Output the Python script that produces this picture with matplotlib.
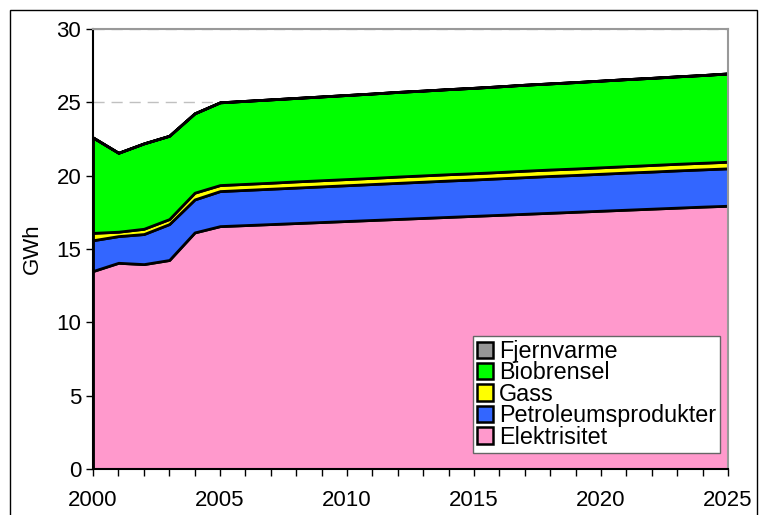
import matplotlib
matplotlib.use("Agg")
import matplotlib.pyplot as plt
from matplotlib.patches import Patch, Rectangle
from matplotlib.ticker import MultipleLocator

plt.rcParams.update({"font.family": ["Liberation Sans", "DejaVu Sans"], "font.size": 16})

years = list(range(2000, 2026))
elektrisitet = [13.5, 14.06, 13.97, 14.25, 16.13, 16.56, 16.63, 16.70, 16.77, 16.84, 16.91,
                16.98, 17.05, 17.12, 17.19, 17.26, 17.33, 17.40, 17.47, 17.54, 17.61,
                17.68, 17.75, 17.82, 17.89, 17.95]
petroleum = [2.1, 1.82, 2.05, 2.45, 2.25, 2.39, 2.40, 2.41, 2.42, 2.43, 2.44,
             2.45, 2.46, 2.47, 2.48, 2.48, 2.49, 2.50, 2.51, 2.51, 2.52,
             2.53, 2.53, 2.54, 2.54, 2.55]
gass = [0.5, 0.3, 0.36, 0.34, 0.46, 0.41, 0.41, 0.41, 0.42, 0.42, 0.42,
        0.42, 0.43, 0.43, 0.43, 0.43, 0.43, 0.44, 0.44, 0.44, 0.44,
        0.44, 0.45, 0.45, 0.45, 0.45]
biobrensel = [6.5, 5.38, 5.82, 5.68, 5.41, 5.64, 5.66, 5.68, 5.69, 5.71, 5.73,
              5.75, 5.77, 5.78, 5.80, 5.82, 5.84, 5.86, 5.87, 5.89, 5.91,
              5.93, 5.94, 5.96, 5.98, 6.02]
fjernvarme = [0.0] * len(years)

labels = ["Elektrisitet", "Petroleumsprodukter", "Gass", "Biobrensel", "Fjernvarme"]
colors = ["#FF99CC", "#3366FF", "#FFFF00", "#00FF00", "#969696"]

fig = plt.figure(figsize=(7.65, 5.15), dpi=100)
fig.patches.append(Rectangle((0.013, -0.1), 0.977, 1.081, transform=fig.transFigure,
                             fill=False, edgecolor="black", linewidth=1))
ax = fig.add_axes([0.1216, 0.0893, 0.83, 0.8544])

ax.yaxis.grid(True, color="#c0c0c0", linestyle=(0, (8, 5)), linewidth=1)
ax.set_axisbelow(True)
ax.stackplot(years, elektrisitet, petroleum, gass, biobrensel, fjernvarme,
             colors=colors, edgecolor="black", linewidth=2, zorder=2)

ax.set_xlim(2000, 2025)
ax.set_ylim(0, 30)
ax.xaxis.set_major_locator(MultipleLocator(5))
ax.xaxis.set_minor_locator(MultipleLocator(1))
ax.yaxis.set_major_locator(MultipleLocator(5))
ax.tick_params(axis="both", which="both", direction="out", length=5, width=1, labelsize=16)
ax.tick_params(axis="x", pad=10)
ax.set_ylabel("GWh", fontsize=16, labelpad=10)

ax.spines["left"].set_color("black")
ax.spines["bottom"].set_color("black")
ax.spines["top"].set_color("#999999")
ax.spines["right"].set_color("#999999")
for s in ax.spines.values():
    s.set_linewidth(1.5)
    s.set_zorder(3)

handles = [Patch(facecolor=c, edgecolor="black", linewidth=1.8, label=l)
           for c, l in zip(colors, labels)][::-1]
leg = ax.legend(handles=handles, loc="lower left", bbox_to_anchor=(0.598, 0.037),
                borderaxespad=0, fancybox=False, framealpha=1, edgecolor="#666666",
                handlelength=0.7, handleheight=0.7, handletextpad=0.25,
                labelspacing=-0.07, fontsize=16.8, borderpad=0.18)
leg.get_frame().set_linewidth(1)

fig.savefig("out.png", dpi=100)
